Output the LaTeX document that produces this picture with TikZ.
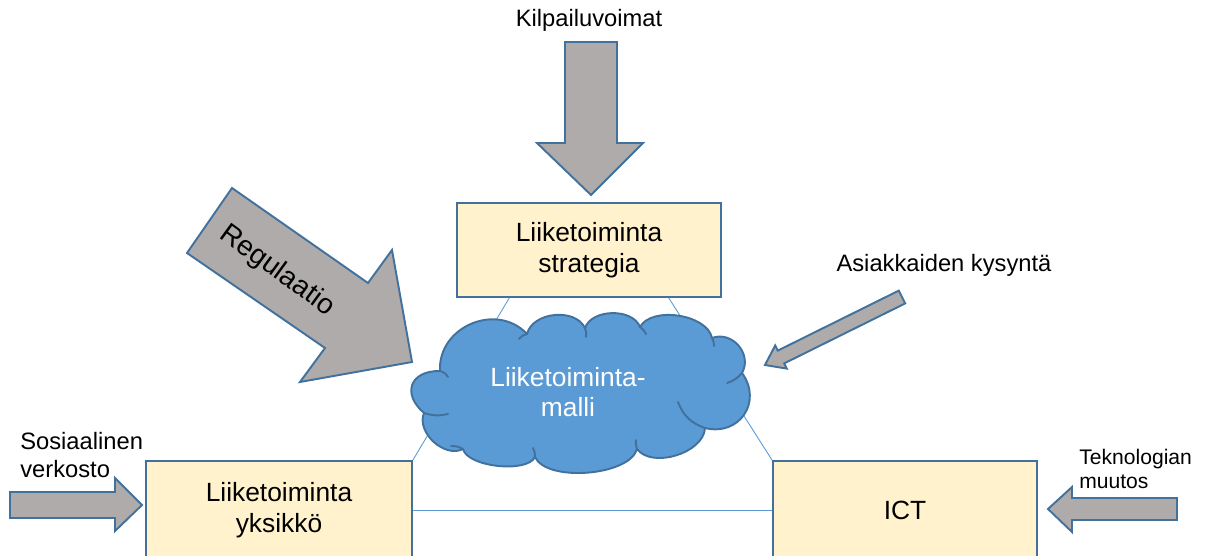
\documentclass[tikz,border=0pt]{standalone}
\usepackage{fontspec}
\setmainfont{Liberation Sans}
\usepackage{tikz}
\usetikzlibrary{arrows.meta,positioning,calc}

\definecolor{boxfill}{HTML}{FFF2CC}
\definecolor{edgeblue}{HTML}{41719C}
\definecolor{cloudblue}{HTML}{5B9BD5}
\definecolor{arrowgrey}{HTML}{AFABAB}

\begin{document}
\begin{tikzpicture}[
  x=0.02cm, y=-0.02cm,
  >=Stealth,
  block/.style={
    rectangle, draw=edgeblue, fill=boxfill, line width=1.1pt,
    minimum width=5.28cm, align=center,
    font=\fontsize{15}{17.5}\selectfont
  },
  force/.style={draw=edgeblue, fill=arrowgrey, line width=1.1pt, line join=miter},
  link/.style={draw=cloudblue, line width=0.5pt},
  puff/.style={bend left=70, looseness=#1},
  cloudline/.style={draw=edgeblue, line width=1.1pt, line cap=round},
  lbl/.style={font=\fontsize{13.5}{15.5}\selectfont, inner sep=0pt}
]
\clip (0,0) rectangle (1211,555);

% -- Laatikot --
\node[block, minimum height=1.88cm] (strategia) at (589,250) {Liiketoiminta\\strategia};
\node[block, minimum width=5.32cm, minimum height=1.96cm] (yksikko) at (279,510) {Liiketoiminta\\yksikkö};
\node[block, minimum height=1.96cm] (ict) at (905,510) {ICT};

% -- Yhteysviivat --
\draw[link] ($(strategia.south west)!0.2!(strategia.south east)$) -- (yksikko.north east);
\draw[link] ($(strategia.south west)!0.8!(strategia.south east)$) -- (ict.north west);
\draw[link] (yksikko.east) -- (ict.west);

% -- Pilvi --
\coordinate (c1) at (440,371);
\coordinate (c2) at (527,334);
\coordinate (c3) at (585,328);
\coordinate (c4) at (640,327);
\coordinate (c5) at (712,338);
\coordinate (c6) at (742,373);
\coordinate (c7) at (705,428);
\coordinate (c8) at (637,449);
\coordinate (c9) at (535,457);
\coordinate (c10) at (463,449);
\coordinate (c11) at (424,413);
\draw[cloudline, fill=cloudblue, line join=round]
  (c1) to[puff=1.2] (c2) to[puff=1.0] (c3) to[puff=0.95] (c4)
  to[puff=0.85] (c5) to[puff=1.2] (c6) to[puff=1.37] (c7)
  to[puff=0.9] (c8) to[puff=0.7] (c9) to[puff=0.65] (c10)
  to[puff=1.0] (c11) to[puff=1.7] cycle;
% sisäkaaret
\draw[cloudline] (c1) to[bend left=20] (448,377);
\draw[cloudline] (c2) to[bend right=20] (519,339);
\draw[cloudline] (c3) to[bend left=15] (586,337);
\draw[cloudline] (c4) to[bend left=15] (646,334);
\draw[cloudline] (c5) to[bend left=15] (714,346);
\draw[cloudline] (c6) to[bend left=15] (727,383);
\draw[cloudline] (c7) to[bend left=25] (678,402);
\draw[cloudline] (c8) to[bend left=15] (636,440);
\draw[cloudline] (c9) to[bend right=15] (533,448);
\draw[cloudline] (c10) to[bend right=15] (451,446);
\draw[cloudline] (c11) to[bend right=15] (448,414);
\node[font=\fontsize{15}{17.5}\selectfont, text=white, align=center] (malli) at (568,392) {Liiketoiminta-\\malli};

% -- Voimat --
\draw[force] (565,42) -- (617,42) -- (617,143) -- (643,143) -- (591,195)
  -- (537,143) -- (565,143) -- cycle;
\node[lbl] (kilpailu) at (589,20) {Kilpailuvoimat};

\draw[force] (232,188) -- (368,283) -- (392,250) -- (412,362) -- (300,382)
  -- (325,348) -- (187,253) -- cycle;
\node[font=\fontsize{16}{18}\selectfont, rotate=-36] (regulaatio) at (277,271) {Regulaatio};

\draw[force] (898.8,290.6) -- (905.2,303.4) -- (784.2,363.4) -- (786.8,368.6)
  -- (765,365) -- (775.2,345.4) -- (777.8,350.6) -- cycle;
\node[lbl] (kysynta) at (944,265) {Asiakkaiden kysyntä};

\draw[force] (10,492) -- (115,492) -- (115,478) -- (142,505) -- (115,531)
  -- (115,518) -- (10,518) -- cycle;
\node[lbl, align=left, anchor=west] (sosiaalinen) at (20,455) {Sosiaalinen\\verkosto};

\draw[force] (1177,498) -- (1072,498) -- (1072,487) -- (1048,509) -- (1072,532)
  -- (1072,520) -- (1177,520) -- cycle;
\node[lbl, font=\fontsize{12}{14}\selectfont, align=left, anchor=west] (teknologia) at (1079,469) {Teknologian\\muutos};

\end{tikzpicture}
\end{document}
